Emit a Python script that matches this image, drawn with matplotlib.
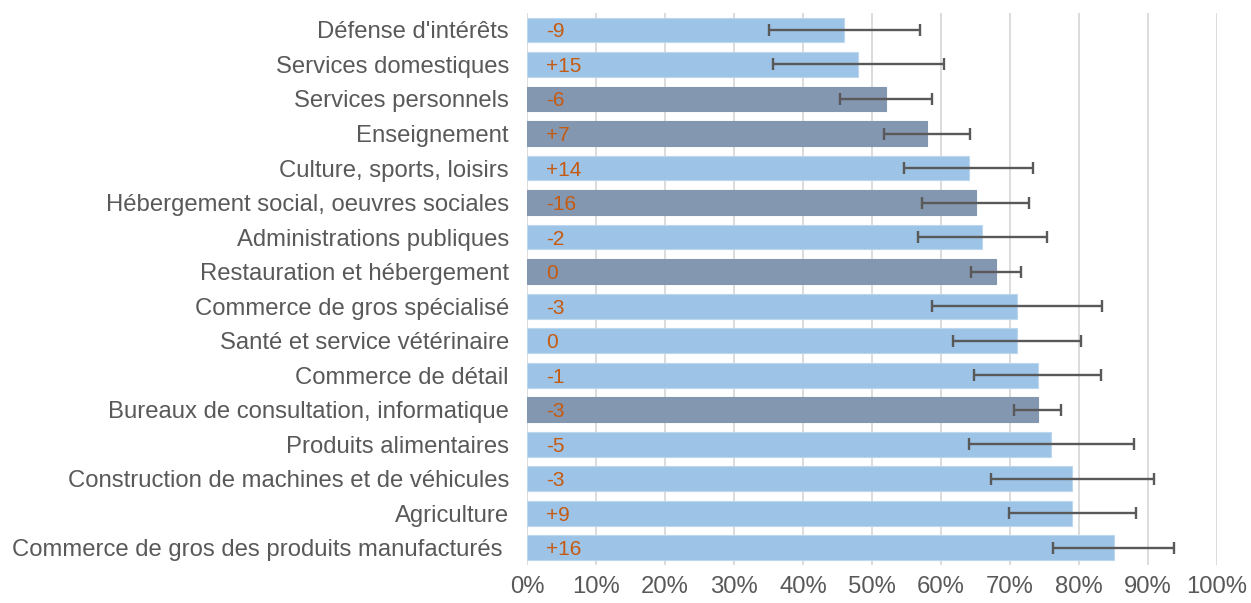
import matplotlib
matplotlib.use("Agg")
import matplotlib.pyplot as plt
import numpy as np

plt.rcParams['font.family'] = ['Liberation Sans', 'DejaVu Sans']

categories = [
    "Défense d'intérêts",
    "Services domestiques",
    "Services personnels",
    "Enseignement",
    "Culture, sports, loisirs",
    "Hébergement social, oeuvres sociales",
    "Administrations publiques",
    "Restauration et hébergement",
    "Commerce de gros spécialisé",
    "Santé et service vétérinaire",
    "Commerce de détail",
    "Bureaux de consultation, informatique",
    "Produits alimentaires",
    "Construction de machines et de véhicules",
    "Agriculture",
    "Commerce de gros des produits manufacturés ",
]
values = [46, 48, 52, 58, 64, 65, 66, 68, 71, 71, 74, 74, 76, 79, 79, 85]
errors = [10.9, 12.4, 6.7, 6.2, 9.4, 7.8, 9.4, 3.6, 12.3, 9.3, 9.2, 3.4, 11.9, 11.8, 9.2, 8.7]
changes = ["-9", "+15", "-6", "+7", "+14", "-16", "-2", "0", "-3", "0", "-1", "-3", "-5", "-3", "+9", "+16"]
highlight = [False, False, True, True, False, True, False, True, False, False, False, True, False, False, False, False]
xticks = [0, 10, 20, 30, 40, 50, 60, 70, 80, 90, 100]

LIGHT = "#9DC3E6"
DARK = "#8497B0"
TEXT = "#595959"
ORANGE = "#C55A11"

fig = plt.figure(figsize=(12.51, 6.03), dpi=100)
ax = fig.add_axes([527 / 1251, 1 - 565 / 603, (1217 - 527) / 1251, (565 - 12.7) / 603])

y = np.arange(len(categories))
colors = [DARK if h else LIGHT for h in highlight]
edges = ["#8497B0" if h else "#BDD7EE" for h in highlight]
ax.barh(y, values, height=0.72, color=colors, edgecolor=edges, linewidth=0.8, zorder=2)
ax.errorbar(values, y, xerr=errors, fmt="none", ecolor="#595959", elinewidth=1.7,
            capsize=4.5, capthick=1.7, zorder=3)

for yi, lab in zip(y, changes):
    ax.text(2.7, yi, lab, color=ORANGE, fontsize=15, va="center_baseline", ha="left", zorder=4)

ax.set_xlim(0, 100)
ax.set_ylim(len(categories) - 0.5, -0.5)
ax.set_yticks(y)
ax.set_yticklabels(categories, fontsize=17.2, color=TEXT)
for t in ax.get_yticklabels():
    t.set_verticalalignment("center_baseline")
ax.set_xticks(xticks)
ax.set_xticklabels([f"{t}%" for t in xticks], fontsize=17.2, color=TEXT)
ax.tick_params(axis="both", length=0)
ax.tick_params(axis="y", pad=13)
ax.tick_params(axis="x", pad=8)
ax.grid(axis="x", color="#D9D9D9", linewidth=1.3, zorder=0)
ax.set_axisbelow(True)
for s in ax.spines.values():
    s.set_visible(False)

fig.savefig("out.png", dpi=100)
